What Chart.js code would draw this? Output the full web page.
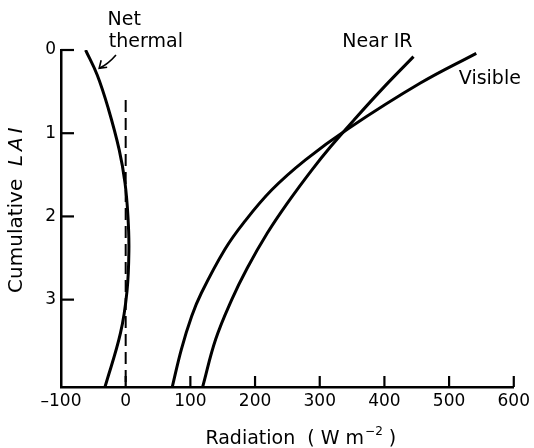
<!DOCTYPE html>
<html>
<head>
<meta charset="utf-8">
<script src="https://cdn.jsdelivr.net/npm/chart.js@4"></script>
<style>
  html,body{margin:0;padding:0;background:#fff}
  #wrap{width:534px;height:448px;position:relative}
</style>
</head>
<body>
<div id="wrap"><canvas id="c"></canvas></div>
<script>
/* ── values (radiation W m-2 vs cumulative LAI) ── */
const thermalLai = [0, 0.3, 0.7, 1.2, 1.6, 2.0, 2.4, 2.9, 3.4, 4.05];
const thermalRad = [-62, -44, -27, -10, -1, 3.5, 5, 2, -8, -32];
const visLai     = [0.04, 0.4, 0.94, 1.32, 1.68, 2.08, 2.4, 2.92, 3.2, 3.6, 4.05];
const visRad     = [542, 455, 345, 278, 226, 182, 153, 117, 102, 86, 72];
const nirLai     = [0.08, 0.44, 0.84, 1.16, 1.44, 1.84, 2.2, 2.62, 3.0, 3.48, 4.05];
const nirRad     = [445, 400, 353, 317, 288, 250, 219, 188, 164, 139, 119];
const zeroLai    = [0.6, 4.05];
const zeroRad    = [0, 0];
const xTicks     = [-100, 0, 100, 200, 300, 400, 500, 600];
const yTicks     = [0, 1, 2, 3];

const FONT = '"DejaVu Sans", sans-serif';
const pts = (xs, ys) => xs.map((v, i) => ({ x: v, y: ys[i] }));

const line = (label, lai, rad, extra) => Object.assign({
  label, data: pts(rad, lai), borderColor: '#000', borderWidth: 3,
  pointRadius: 0, fill: false, tension: 0.4
}, extra || {});

/* ── labels, inward ticks, axis titles ── */
const notes = {
  id: 'notes',
  afterDraw(chart) {
    const { ctx, chartArea: a, scales: { x, y } } = chart;
    ctx.save();
    ctx.strokeStyle = '#000'; ctx.fillStyle = '#000'; ctx.lineWidth = 2.2;
    // tick marks pointing into the plot
    yTicks.forEach(v => { const p = y.getPixelForValue(v); ctx.beginPath(); ctx.moveTo(a.left, p); ctx.lineTo(a.left + 13, p); ctx.stroke(); });
    xTicks.slice(1).forEach(v => { const p = x.getPixelForValue(v); ctx.beginPath(); ctx.moveTo(p, a.bottom); ctx.lineTo(p, a.bottom - 11); ctx.stroke(); });

    // curve labels
    ctx.font = '19px ' + FONT; ctx.textBaseline = 'middle'; ctx.textAlign = 'left';
    ctx.fillText('Net', x.getPixelForValue(-28), y.getPixelForValue(-0.36));
    ctx.fillText('thermal', x.getPixelForValue(-26), y.getPixelForValue(-0.1));
    ctx.fillText('Near IR', x.getPixelForValue(335), y.getPixelForValue(-0.1));
    ctx.fillText('Visible', x.getPixelForValue(515), y.getPixelForValue(0.35));

    // arrow from "thermal" to its curve
    const x0 = x.getPixelForValue(-15), y0 = y.getPixelForValue(0.06);
    const x1 = x.getPixelForValue(-41), y1 = y.getPixelForValue(0.22);
    ctx.lineWidth = 1.6;
    ctx.beginPath(); ctx.moveTo(x0, y0); ctx.quadraticCurveTo(x0 - 8, y1 - 4, x1, y1); ctx.stroke();
    ctx.beginPath(); ctx.moveTo(x1 + 2, y1 - 8); ctx.lineTo(x1, y1); ctx.lineTo(x1 + 8, y1 - 1); ctx.stroke();

    // x title with superscript
    ctx.textBaseline = 'alphabetic';
    const t1 = 'Radiation  ( W m', t3 = ' )';
    ctx.font = '12px ' + FONT; const w2 = ctx.measureText('\u22122').width;
    ctx.font = '19px ' + FONT;
    const w1 = ctx.measureText(t1).width, w3 = ctx.measureText(t3).width;
    let cx = x.getPixelForValue(270) - (w1 + w2 + w3) / 2;
    const by = a.bottom + 57;
    ctx.fillText(t1, cx, by); cx += w1;
    ctx.font = '12px ' + FONT; ctx.fillText('\u22122', cx + 1, by - 9); cx += w2 + 1;
    ctx.font = '19px ' + FONT; ctx.fillText(t3, cx, by);

    // y title, rotated, LAI in italics
    ctx.save();
    ctx.translate(22, y.getPixelForValue(1.9));
    ctx.rotate(-Math.PI / 2);
    ctx.font = '20px ' + FONT;
    const c1 = 'Cumulative  ';
    const wc = ctx.measureText(c1).width;
    ctx.font = 'italic 20px ' + FONT; ctx.letterSpacing = '4px';
    const wl = ctx.measureText('LAI').width;
    const sx = -(wc + wl) / 2;
    ctx.letterSpacing = '0px'; ctx.font = '20px ' + FONT;
    ctx.fillText(c1, sx, 0);
    ctx.letterSpacing = '4px'; ctx.font = 'italic 20px ' + FONT;
    ctx.fillText('LAI', sx + wc, 0);
    ctx.restore();
    ctx.restore();
  }
};

new Chart(document.getElementById('c'), {
  type: 'line',
  data: {
    datasets: [
      line('Net thermal', thermalLai, thermalRad),
      line('Visible', visLai, visRad),
      line('Near IR', nirLai, nirRad),
      line('zero', zeroLai, zeroRad, { borderWidth: 2, borderDash: [12, 6], tension: 0 })
    ]
  },
  options: {
    responsive: true, maintainAspectRatio: false, animation: false,
    indexAxis: 'y',
    layout: { padding: { top: 50, right: 20, left: 0, bottom: 0 } },
    plugins: { legend: { display: false }, tooltip: { enabled: false } },
    scales: {
      x: {
        type: 'linear', position: 'bottom', min: -100, max: 600,
        afterFit: s => { s.height = 61; },
        afterBuildTicks: s => { s.ticks = xTicks.map(v => ({ value: v })); },
        grid: { display: true, drawOnChartArea: false, drawTicks: false },
        border: { display: true, color: '#000', width: 2.5 },
        ticks: { color: '#000', padding: 4, maxRotation: 0, font: { family: FONT, size: 17 },
                 callback: v => v < 0 ? '\u2013' + Math.abs(v) : String(v) }
      },
      y: {
        type: 'linear', position: 'left', reverse: true, min: 0, max: 4.05,
        afterFit: s => { s.width = 61; },
        afterBuildTicks: s => { s.ticks = yTicks.map(v => ({ value: v })); },
        grid: { display: true, drawOnChartArea: false, drawTicks: false },
        border: { display: true, color: '#000', width: 2.5 },
        ticks: { color: '#000', padding: 5, font: { family: FONT, size: 17 } }
      }
    }
  },
  plugins: [notes]
});
</script>
</body>
</html>
